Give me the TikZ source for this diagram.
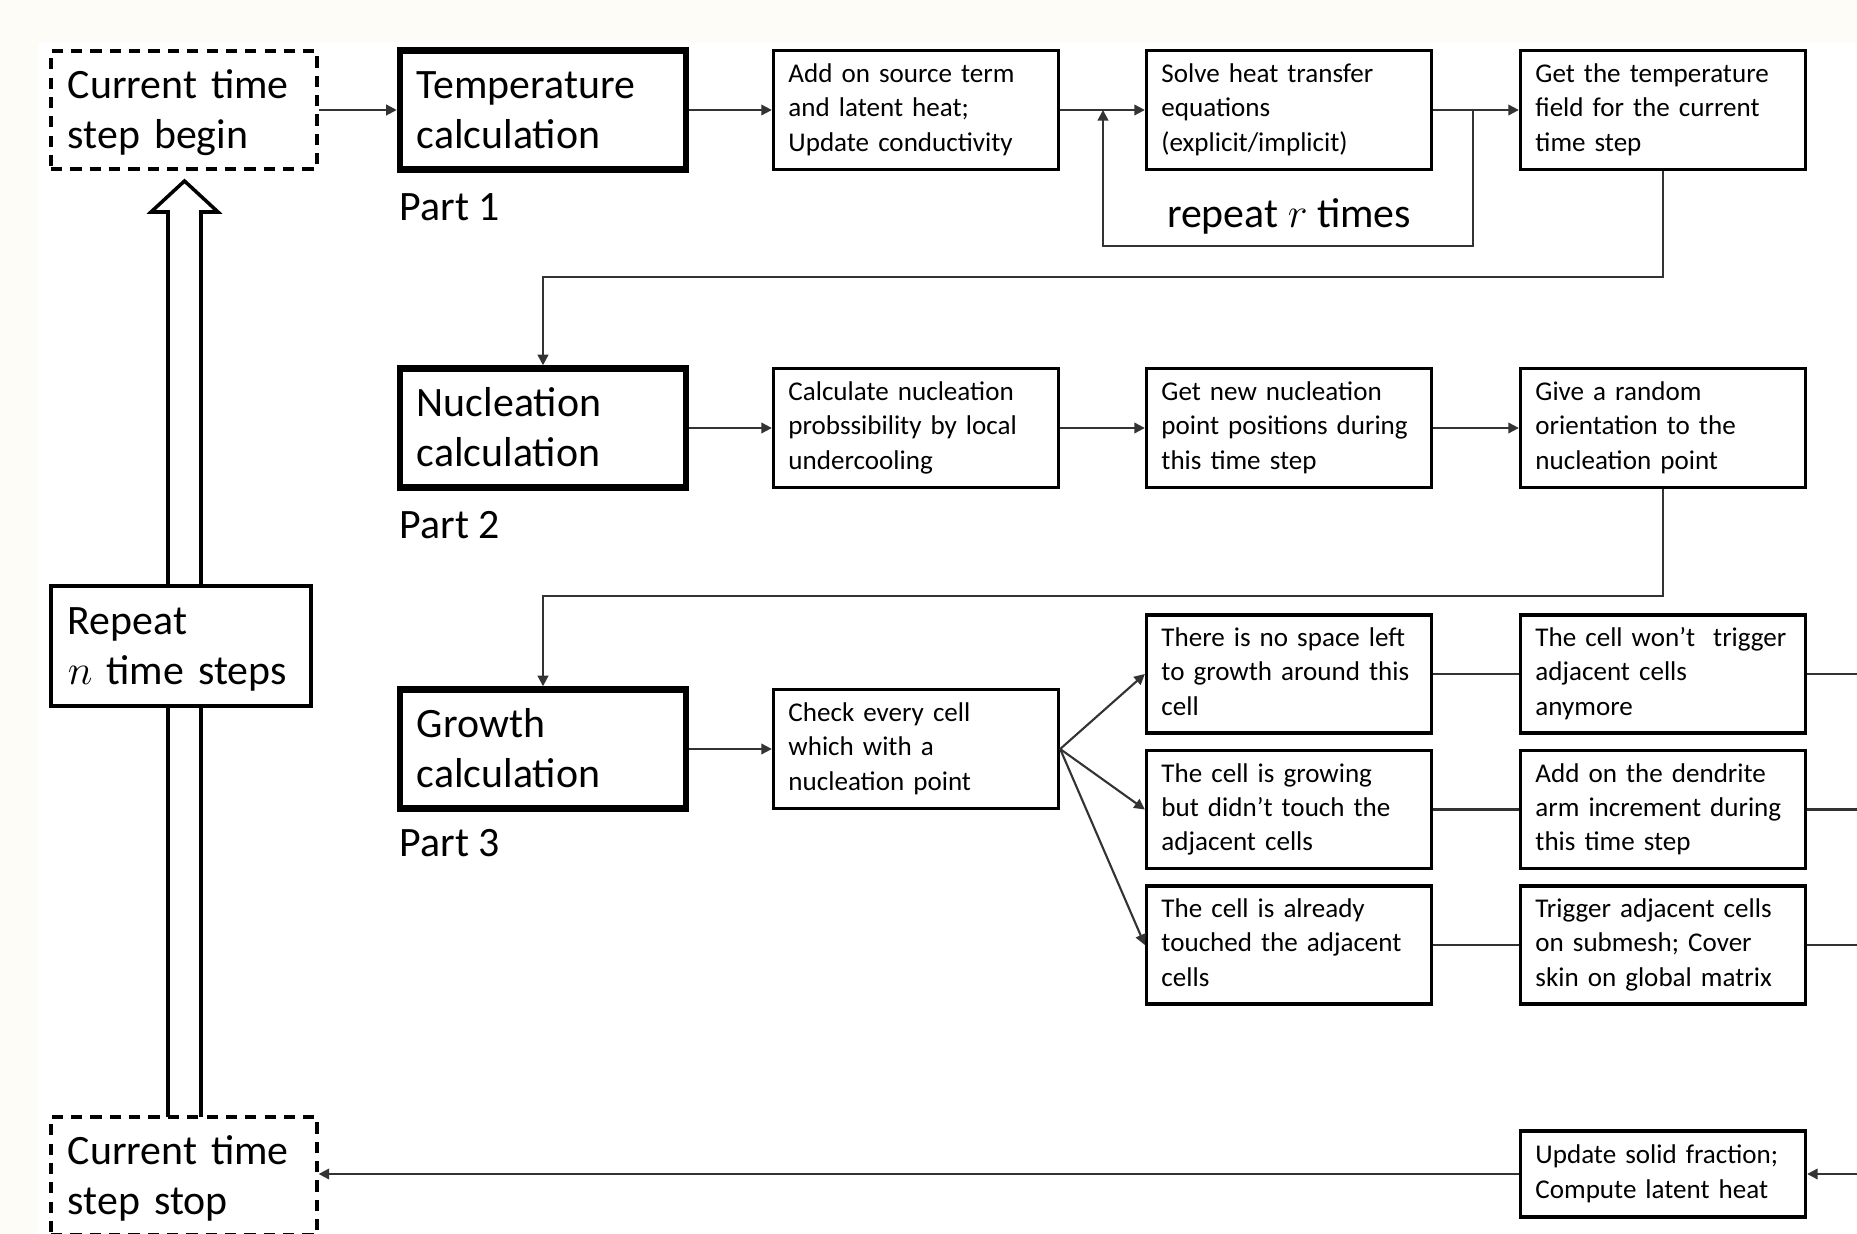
\documentclass[tikz,border=0pt]{standalone}
\usepackage{fontspec}
\setmainfont{Carlito}
\usetikzlibrary{arrows.meta}
\definecolor{bgc}{RGB}{253,252,247}
\newcommand{\smallf}{\fontsize{7.7}{9.77}\selectfont}
\newcommand{\bigf}{\fontsize{11.9}{14.1}\selectfont}
\newcommand{\ml}[1]{\begin{tabular}{@{}l@{}}#1\end{tabular}}
\newcommand{\mlb}[1]{\raisebox{-1pt}[\height][\depth]{\begin{tabular}{@{}l@{}}#1\end{tabular}}}
\tikzset{
  box/.style={draw, line width=0.9pt, rectangle, fill=white,
    minimum width=2.85cm, minimum height=1.19cm, text width=2.55cm,
    inner xsep=0.15cm, inner ysep=0pt, align=left, font=\smallf},
  bigbox/.style={draw, line width=1.8pt, rectangle, fill=white,
    minimum width=2.86cm, minimum height=1.19cm, text width=2.52cm,
    inner xsep=0.17cm, inner ysep=0pt, align=left, font=\bigf},
  dbox/.style={draw, line width=0.9pt, dash pattern=on 3.2pt off 2.3pt, rectangle, fill=white,
    minimum width=2.66cm, minimum height=1.18cm, text width=2.32cm,
    inner xsep=0.17cm, inner ysep=0pt, align=left, font=\bigf},
  rbox/.style={draw, line width=0.9pt, rectangle, fill=white,
    minimum width=2.60cm, minimum height=1.20cm, text width=2.26cm,
    inner xsep=0.17cm, inner ysep=0pt, align=left, font=\bigf},
  lbl/.style={font=\bigf, inner sep=0pt},
  conn/.style={line width=0.6pt, draw=black!80},
  arr/.style={conn, -{Triangle[length=3pt,width=3pt]}},
}
\begin{document}
\begin{tikzpicture}[x=0.01cm,y=-0.01cm]
\useasboundingbox (0,0) rectangle (1857,1234);
\clip (0,0) rectangle (1857,1234);
\fill[bgc] (0,0) rectangle (1857,1234);
\fill[white] (38,42) rectangle (1857,1234);

% big hollow arrow
\draw[line width=1pt, fill=white] (168,1117) -- (168,212) -- (151,212) -- (184.5,181)
  -- (218,212) -- (201,212) -- (201,1117);

% left column
\node[dbox] (begin) at (184,110) {\mlb{Current time\\step begin}};
\node[rbox] (rep) at (181,646) {\mlb{Repeat\\$n$ time steps}};
\node[dbox] (stop) at (184,1176) {\mlb{Current time\\step stop}};

% row 1
\node[bigbox] (temp) at (543,110) {\mlb{Temperature\\calculation}};
\node[box] (add) at (916,110) {\ml{Add on source term\\and latent heat;\\Update conductivity}};
\node[box] (solve) at (1289,110) {\ml{Solve heat transfer\\equations\\(explicit/implicit)}};
\node[box] (gett) at (1663,110) {\ml{Get the temperature\\field for the current\\time step}};
\node[lbl, anchor=west] (p1) at (399,207) {Part 1};
\node[lbl] (rr) at (1289,216) {repeat $r$ times};

% row 2
\node[bigbox] (nuc) at (543,428) {\mlb{Nucleation\\calculation}};
\node[box] (calc) at (916,428) {\ml{Calculate nucleation\\probssibility by local\\undercooling}};
\node[box] (getn) at (1289,428) {\ml{Get new nucleation\\point positions during\\this time step}};
\node[box] (give) at (1663,428) {\ml{Give a random\\orientation to the\\nucleation point}};
\node[lbl, anchor=west] (p2) at (399,525) {Part 2};

% row 3
\node[bigbox] (grow) at (543,749) {\mlb{Growth\\calculation}};
\node[box] (check) at (916,749) {\ml{Check every cell\\which with a\\nucleation point}};
\node[box, minimum height=1.18cm] (b1) at (1289,674) {\ml{There is no space left\\to growth around this\\cell}};
\node[box, minimum height=1.18cm] (b2) at (1289,809.5) {\ml{The cell is growing\\but didn't touch the\\adjacent cells}};
\node[box, minimum height=1.18cm] (b3) at (1289,945) {\ml{The cell is already\\touched the adjacent\\cells}};
\node[box, minimum height=1.18cm] (d1) at (1663,674) {\ml{The cell won't\ \ trigger\\adjacent cells\\anymore}};
\node[box, minimum height=1.18cm] (d2) at (1663,809.5) {\ml{Add on the dendrite\\arm increment during\\this time step}};
\node[box, minimum height=1.18cm] (d3) at (1663,945) {\ml{Trigger adjacent cells\\on submesh; Cover\\skin on global matrix}};
\node[lbl, anchor=west] (p3) at (399,843) {Part 3};

\node[box, minimum height=0.86cm] (upd) at (1663,1174) {\ml{Update solid fraction;\\Compute latent heat}};

% free ends on the right edge
\coordinate (e1) at (1857,674);
\coordinate (e2) at (1857,809.5);
\coordinate (e3) at (1857,945);
\coordinate (e4) at (1857,1174);
% loop points
\coordinate (lpa) at (1473,110);
\coordinate (lpb) at (1103,110);

% connectors row 1
\draw[arr] (begin.east) -- (temp.west);
\draw[arr] (temp.east) -- (add.west);
\draw[arr] (add.east) -- (solve.west);
\draw[arr] (solve.east) -- (gett.west);
\draw[arr] (lpa) -- ++(0,136) -| (lpb);
\draw[arr] (gett.south) |- (1000,277) -| (nuc.north);

% row 2
\draw[arr] (nuc.east) -- (calc.west);
\draw[arr] (calc.east) -- (getn.west);
\draw[arr] (getn.east) -- (give.west);
\draw[arr] (give.south) |- (1000,596) -| (grow.north);

% row 3
\draw[arr] (grow.east) -- (check.west);
\draw[arr] (check.east) -- (b1.west);
\draw[arr] (check.east) -- (b2.west);
\draw[arr] (check.east) -- (b3.west);
\draw[conn] (b1.east) -- (d1.west);
\draw[conn] (b2.east) -- (d2.west);
\draw[conn] (b3.east) -- (d3.west);
\draw[conn] (d1.east) -- (e1);
\draw[conn] (d2.east) -- (e2);
\draw[conn] (d3.east) -- (e3);
\draw[arr] (e4) -- (upd.east);
\draw[arr] (upd.west) -- (upd.west -| stop.east);
\end{tikzpicture}
\end{document}
